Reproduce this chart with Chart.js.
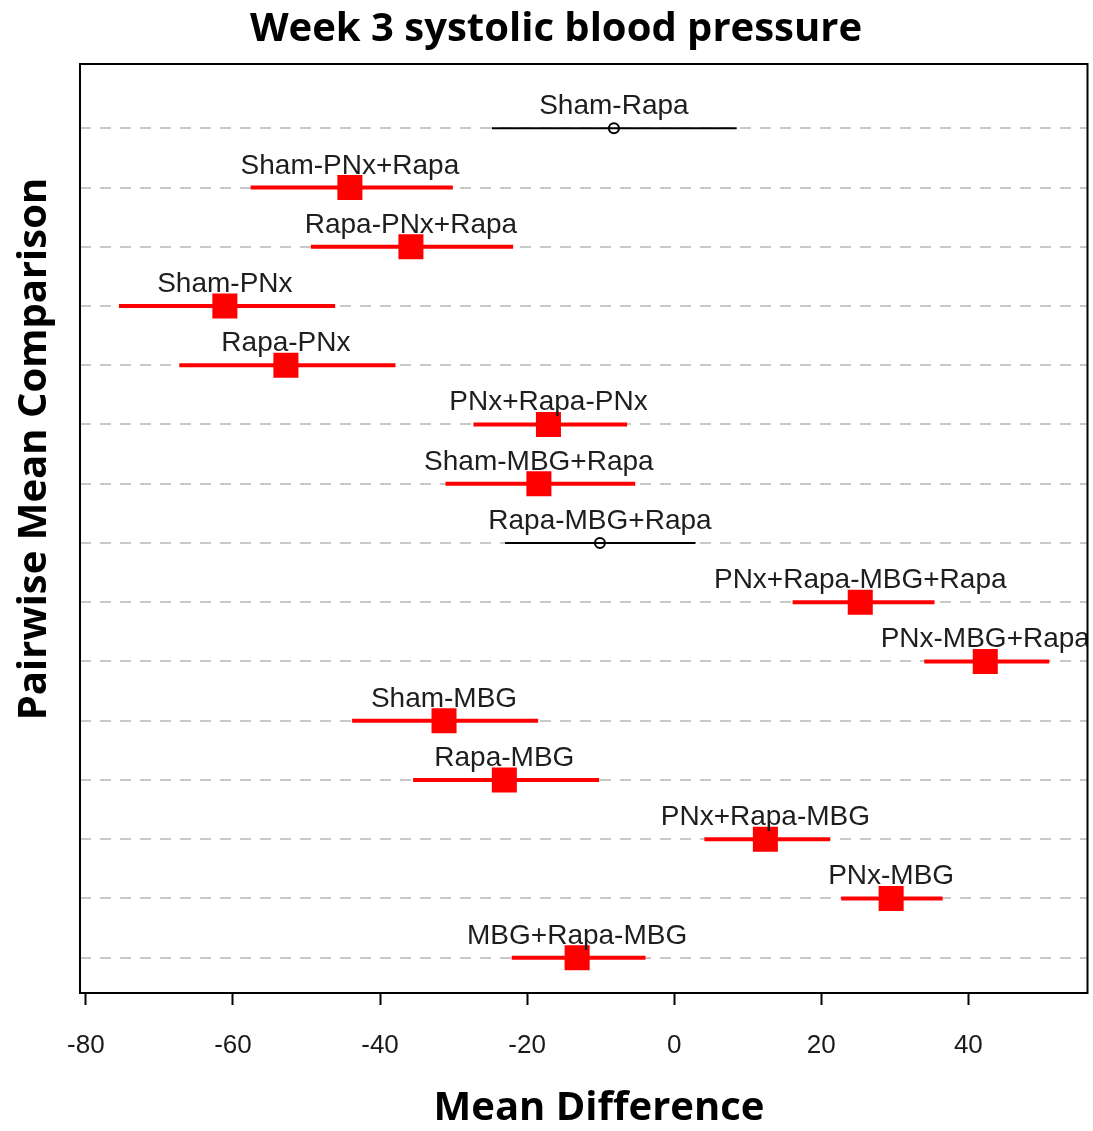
<!DOCTYPE html>
<html>
<head>
<meta charset="utf-8">
<script src="https://cdn.jsdelivr.net/npm/chart.js@4/dist/chart.umd.min.js"></script>
<style>
    html, body { margin: 0; padding: 0; background: #fff; }
    #wrap { width: 1093px; height: 1131px; }
</style>
</head>
<body>
<div id="wrap"><canvas id="tukeyChart" width="1093" height="1131"></canvas></div>
<script>
// Pairwise comparisons, top to bottom
const comparisons = [
    'Sham-Rapa', 'Sham-PNx+Rapa', 'Rapa-PNx+Rapa', 'Sham-PNx', 'Rapa-PNx',
    'PNx+Rapa-PNx', 'Sham-MBG+Rapa', 'Rapa-MBG+Rapa', 'PNx+Rapa-MBG+Rapa', 'PNx-MBG+Rapa',
    'Sham-MBG', 'Rapa-MBG', 'PNx+Rapa-MBG', 'PNx-MBG', 'MBG+Rapa-MBG'
];
const diffs = [-8.2, -44.1, -35.8, -61.1, -52.8, -17.1, -18.4, -10.1, 25.3, 42.3, -31.3, -23.1, 12.4, 29.5, -13.2];
const lower = [-24.8, -57.6, -49.4, -75.5, -67.3, -27.3, -31.1, -23.0, 16.1, 34.0, -43.8, -35.5, 4.1, 22.7, -22.1];
const upper = [8.5, -30.1, -21.9, -46.1, -37.9, -6.4, -5.3, 2.9, 35.4, 51.0, -18.5, -10.2, 21.2, 36.5, -3.9];
const xTicks = [-80, -60, -40, -20, 0, 20, 40];

const rowIdx = comparisons.map((c, i) => i + 1);
const isSig = comparisons.map((c, i) => lower[i] > 0 || upper[i] < 0);

// Confidence intervals under the markers
const intervalPlugin = {
    id: 'intervals',
    beforeDatasetsDraw(chart) {
        const { ctx, scales: { x, y } } = chart;
        ctx.save();
        comparisons.forEach((c, i) => {
            const py = y.getPixelForValue(rowIdx[i]);
            ctx.beginPath();
            ctx.strokeStyle = isSig[i] ? '#ff0000' : '#000000';
            ctx.lineWidth = isSig[i] ? 4 : 2;
            ctx.moveTo(x.getPixelForValue(lower[i]), py);
            ctx.lineTo(x.getPixelForValue(upper[i]), py);
            ctx.stroke();
        });
        ctx.restore();
    },
    afterDatasetsDraw(chart) {
        // comparison names above each interval, clipped to the box
        const { ctx, chartArea: a, scales: { x, y } } = chart;
        ctx.save();
        ctx.beginPath();
        ctx.rect(a.left, a.top, a.right - a.left, a.bottom - a.top);
        ctx.clip();
        ctx.font = '28px "Liberation Sans", Arial, sans-serif';
        ctx.fillStyle = '#1e1e1e';
        ctx.textAlign = 'center';
        ctx.textBaseline = 'alphabetic';
        comparisons.forEach((c, i) => {
            ctx.fillText(c, x.getPixelForValue(diffs[i]), y.getPixelForValue(rowIdx[i]) - 14);
        });
        ctx.restore();
    }
};

// Box, main title and axis titles
const frameTitles = {
    id: 'frameTitles',
    afterDraw(chart) {
        const { ctx, chartArea: a } = chart;
        ctx.save();
        ctx.strokeStyle = '#000';
        ctx.lineWidth = 2;
        ctx.strokeRect(a.left, a.top, a.right - a.left, a.bottom - a.top);

        ctx.fillStyle = '#000';
        ctx.textAlign = 'center';
        ctx.textBaseline = 'middle';
        ctx.font = 'bold 40px "Open Sans", Lato, sans-serif';
        ctx.fillText('Week 3 systolic blood pressure', 556, 30);
        ctx.fillText('Mean Difference', 599, 1109);

        ctx.translate(35, 449);
        ctx.rotate(-Math.PI / 2);
        ctx.fillText('Pairwise Mean Comparison', 0, 0);
        ctx.restore();
    }
};

const ctx = document.getElementById('tukeyChart').getContext('2d');
const chart = new Chart(ctx, {
    type: 'scatter',
    data: {
        datasets: [{
            data: comparisons.map((c, i) => ({ x: diffs[i], y: rowIdx[i] })),
            pointStyle: isSig.map(s => s ? 'rect' : 'circle'),
            pointRadius: isSig.map(s => s ? 17.7 : 5),
            pointBackgroundColor: isSig.map(s => s ? '#ff0000' : 'rgba(0,0,0,0)'),
            pointBorderColor: isSig.map(s => s ? '#ff0000' : '#000000'),
            pointBorderWidth: isSig.map(s => s ? 0 : 2),
            pointHoverRadius: isSig.map(s => s ? 17.7 : 5)
        }]
    },
    options: {
        responsive: false,
        animation: false,
        layout: { autoPadding: false, padding: { top: 64, right: 5.5, left: 0, bottom: 0 } },
        plugins: {
            legend: { display: false },
            tooltip: { enabled: false }
        },
        scales: {
            x: {
                type: 'linear',
                min: -80.8,
                max: 56.2,
                afterBuildTicks: s => { s.ticks = xTicks.map(v => ({ value: v })); },
                afterFit: s => { s.height = 138; s.paddingLeft = 0; s.paddingRight = 0; },
                border: { display: false },
                grid: {
                    drawOnChartArea: false,
                    drawTicks: true,
                    tickLength: 12,
                    tickColor: '#000',
                    tickWidth: 2
                },
                ticks: {
                    color: '#1a1a1a',
                    padding: 25,
                    maxRotation: 0,
                    font: { family: '"Liberation Sans", Arial, sans-serif', size: 26 }
                }
            },
            y: {
                type: 'linear',
                reverse: true,
                min: -0.085,
                max: 15.596,
                afterBuildTicks: s => { s.ticks = rowIdx.map(v => ({ value: v })); },
                afterFit: s => { s.width = 80; s.paddingTop = 0; s.paddingBottom = 0; },
                border: { display: false, dash: [11, 9] },
                grid: {
                    color: '#c8c8c8',
                    lineWidth: 2,
                    drawTicks: false
                },
                ticks: { display: false }
            }
        }
    },
    plugins: [intervalPlugin, frameTitles]
});
</script>
</body>
</html>
